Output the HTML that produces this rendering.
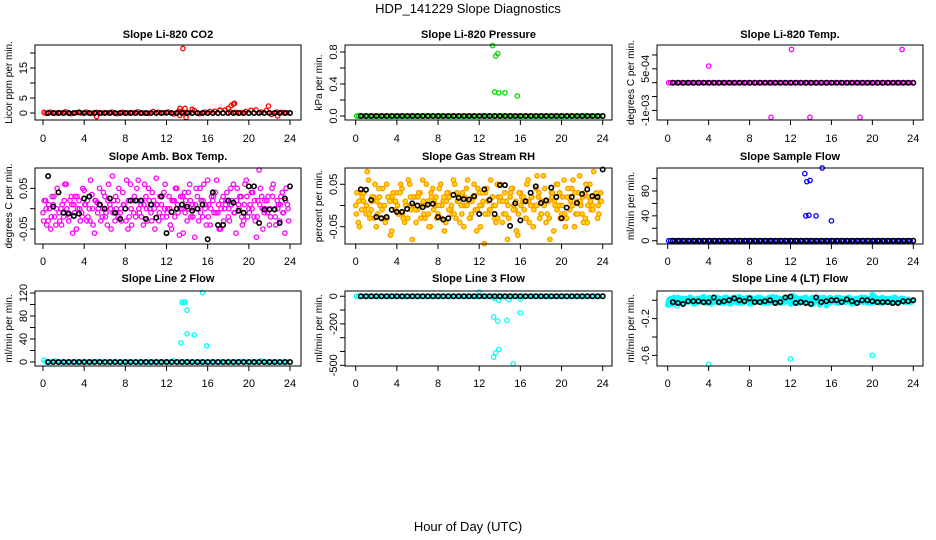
<!DOCTYPE html>
<html><head><meta charset="utf-8">
<style>
html,body{margin:0;padding:0;background:#fff;}
svg{display:block;font-family:"Liberation Sans",sans-serif;}
</style></head>
<body>
<svg id="chart" width="936" height="540" viewBox="0 0 936 540" xmlns="http://www.w3.org/2000/svg">
<rect x="0" y="0" width="936" height="540" fill="#fff"/>
<text x="468" y="13" font-size="13" text-anchor="middle">HDP_141229  Slope Diagnostics</text>
<text x="468" y="531" font-size="13" text-anchor="middle">Hour of Day (UTC)</text>
</svg>
<script>
// ---- data ----
const xTicks = [0,4,8,12,16,20,24];
const blackHours = [0.5,1,1.5,2,2.5,3,3.5,4,4.5,5,5.5,6,6.5,7,7.5,8,8.5,9,9.5,10,10.5,11,11.5,12,12.5,13,13.5,14,14.5,15,15.5,16,16.5,17,17.5,18,18.5,19,19.5,20,20.5,21,21.5,22,22.5,23,23.5,24];
const baseHours = [0.1,0.3,0.7,1.2,1.7,2.2,2.7,3.2,3.7,4.2,4.7,5.2,5.7,6.2,6.7,7.2,7.7,8.2,8.7,9.2,9.7,10.2,10.7,11.2,11.7,12.2,12.7,13.2,13.7,14.2,14.7,15.2,15.7,16.2,16.7,17.2,17.7,18.2,18.7,19.2,19.7,20.2,20.7,21.2,21.7,22.2,22.7,23.2,23.7];
const cloudHoursA = [0,0.25,0.5,0.75,1,1.25,1.5,1.75,2,2.25,2.5,2.75,3,3.25,3.5,3.75,4,4.25,4.5,4.75,5,5.25,5.5,5.75,6,6.25,6.5,6.75,7,7.25,7.5,7.75,8,8.25,8.5,8.75,9,9.25,9.5,9.75,10,10.25,10.5,10.75,11,11.25,11.5,11.75,12,12.25,12.5,12.75,13,13.25,13.5,13.75,14,14.25,14.5,14.75,15,15.25,15.5,15.75,16,16.25,16.5,16.75,17,17.25,17.5,17.75,18,18.25,18.5,18.75,19,19.25,19.5,19.75,20,20.25,20.5,20.75,21,21.25,21.5,21.75,22,22.25,22.5,22.75,23,23.25,23.5,23.75];
const cloudHoursB = [0.12,0.37,0.62,0.87,1.12,1.37,1.62,1.87,2.12,2.37,2.62,2.87,3.12,3.37,3.62,3.87,4.12,4.37,4.62,4.87,5.12,5.37,5.62,5.87,6.12,6.37,6.62,6.87,7.12,7.37,7.62,7.87,8.12,8.37,8.62,8.87,9.12,9.37,9.62,9.87,10.12,10.37,10.62,10.87,11.12,11.37,11.62,11.87,12.12,12.37,12.62,12.87,13.12,13.37,13.62,13.87,14.12,14.37,14.62,14.87,15.12,15.37,15.62,15.87,16.12,16.37,16.62,16.87,17.12,17.37,17.62,17.87,18.12,18.37,18.62,18.87,19.12,19.37,19.62,19.87,20.12,20.37,20.62,20.87,21.12,21.37,21.62,21.87,22.12,22.37,22.62,22.87,23.12,23.37,23.62,23.87];
const cloudHoursC = [0.06,0.31,0.56,0.81,1.06,1.31,1.56,1.81,2.06,2.31,2.56,2.81,3.06,3.31,3.56,3.81,4.06,4.31,4.56,4.81,5.06,5.31,5.56,5.81,6.06,6.31,6.56,6.81,7.06,7.31,7.56,7.81,8.06,8.31,8.56,8.81,9.06,9.31,9.56,9.81,10.06,10.31,10.56,10.81,11.06,11.31,11.56,11.81,12.06,12.31,12.56,12.81,13.06,13.31,13.56,13.81,14.06,14.31,14.56,14.81,15.06,15.31,15.56,15.81,16.06,16.31,16.56,16.81,17.06,17.31,17.56,17.81,18.06,18.31,18.56,18.81,19.06,19.31,19.56,19.81,20.06,20.31,20.56,20.81,21.06,21.31,21.56,21.81,22.06,22.31,22.56,22.81,23.06,23.31,23.56,23.81];

// Panel 1: CO2
const co2Base = [0.2,-0.1,0.3,0,0.1,0.4,-0.2,0.1,0,0.3,-0.1,0.2,0,0.1,0.3,-0.2,0.2,0,0.1,0.4,0,-0.1,0.5,0.2,0.1,0.3,-0.3,0.6,0.2,0.1,0.8,-0.2,0.3,0.5,0.6,0.9,1.0,0.4,0.2,0.1,0.5,0.9,1.0,0.3,0.8,-0.5,0.3,0.2,0.1];
const co2Black = [0,0,0,0,0,0,0.2,0,0,0,0,0,0,0,0,0,0,0,0,0,0,0,0,0.1,0,0,0,0,0,0,0,0,0,0,0,0,0,0,0,0,0,0,0,0,0,0,0,0];
const co2OutHours = [13.6,13.3,13.8,14.5,13.3,13.9,5.2,17.2,18,18.3,18.5,18.6,21.9,22.8];
const co2OutVals = [21.5,1.5,1.5,1.2,-0.8,-1.5,-1.2,1,1.5,2.5,3,3.2,2.3,-1];

// Panel 2: pressure
const presBase = [0,0,0,0,0,0,0,0,0,0,0,0,0,0,0,0,0,0,0,0,0,0,0,0,0,0,0,0,0,0,0,0,0,0,0,0,0,0,0,0,0,0,0,0,0,0,0,0,0];
const presBlack = [0,0,0,0,0,0,0,0,0,0,0,0,0,0,0,0,0,0,0,0,0,0,0,0,0,0,0,0,0,0,0,0,0,0,0,0,0,0,0,0,0,0,0,0,0,0,0,0];
const presOutHours = [13.3,13.6,13.8,15.0,13.5,13.9,14.5,15.7];
const presOutVals = [0.88,0.75,0.78,0.9,0.3,0.29,0.29,0.25];

// Panel 3: Li-820 temp
const tempBase = [0,0,0,0,0,0,0,0,0,0,0,0,0,0,0,0,0,0,0,0,0,0,0,0,0,0,0,0,0,0,0,0,0,0,0,0,0,0,0,0,0,0,0,0,0,0,0,0,0];
const tempBlack = [0,0,0,0,0,0,0,0,0,0,0,0,0,0,0,0,0,0,0,0,0,0,0,0,0,0,0,0,0,0,0,0,0,0,0,0,0,0,0,0,0,0,0,0,0,0,0,0];
const tempOutHours = [4.0,12.1,22.9,10.1,13.9,18.8];
const tempOutVals = [0.0006,0.0012,0.0012,-0.00125,-0.00125,-0.00125];

// Panel 4: Amb box temp
const ambCloudA = [-0.01,0.02,-0.03,-0.05,0.01,-0.04,0.04,0.0,-0.02,0.06,-0.03,0.03,0.01,-0.05,0.02,-0.01,0.045,-0.03,0.0,0.035,-0.06,0.015,0.05,-0.02,0.03,-0.04,0.01,0.08,-0.03,0.02,-0.01,0.04,0.0,-0.05,0.06,0.02,-0.02,0.07,0.01,-0.04,0.03,0.05,-0.01,0.02,0.075,-0.03,0.01,0.04,-0.02,0.03,-0.05,0.02,0.05,-0.065,0.0,0.04,-0.03,0.06,0.01,-0.07,0.03,0.05,-0.02,0.0,0.07,-0.04,0.02,0.04,-0.01,-0.05,0.03,0.01,-0.02,0.05,0.06,-0.06,0.01,0.03,-0.03,0.07,0.0,0.04,-0.02,-0.07,0.095,0.03,-0.01,0.02,-0.04,0.05,0.0,0.02,-0.03,0.04,-0.06,0.01];
const ambCloudB = [0.02,-0.04,0.0,0.03,-0.02,0.05,-0.03,0.01,0.06,-0.01,0.02,-0.06,0.03,0.0,-0.03,0.05,0.01,-0.02,0.07,-0.04,0.02,0.0,-0.03,0.04,-0.01,0.06,-0.05,0.02,0.0,0.05,-0.03,0.01,0.07,-0.02,-0.04,0.03,0.05,-0.01,0.02,0.06,-0.03,0.0,0.04,-0.05,0.01,0.03,-0.02,0.06,0.0,-0.04,0.02,0.05,-0.01,0.03,-0.06,0.02,0.04,-0.02,0.0,0.05,-0.03,0.02,0.06,-0.04,0.01,0.03,-0.01,0.07,-0.05,0.02,0.0,0.04,-0.03,0.02,-0.01,0.05,0.03,-0.04,0.06,-0.02,0.01,0.04,-0.03,0.02,0.05,-0.05,0.0,0.03,-0.02,0.06,-0.04,0.01,0.03,-0.01,0.05,-0.03];
const ambCloudC = [-0.03,0.0,0.01,-0.02,0.03,0.0,-0.01,-0.04,0.02,0.0,-0.02,0.01,-0.01,0.03,0.0,-0.02,0.01,0.02,-0.03,0.0,0.02,-0.01,0.01,0.0,-0.02,0.02,0.0,-0.01,0.03,-0.02,0.0,0.01,-0.03,0.02,0.0,-0.01,0.02,0.0,-0.02,0.01,0.0,0.02,-0.03,0.0,0.01,-0.01,0.03,0.0,-0.01,0.0,0.02,-0.02,0.01,0.0,0.03,-0.01,0.0,0.02,-0.02,0.01,0.0,-0.01,0.02,0.01,-0.02,0.0,0.03,-0.01,0.01,0.0,-0.03,0.02,0.0,0.01,-0.01,0.02,0.0,-0.02,0.01,0.03,-0.01,0.0,0.02,-0.02,0.01,0.0,0.02,-0.01,0.0,0.03,-0.02,0.0,0.01,-0.01,0.02,0.0];
const ambBlack = [0.08,0.005,0.04,-0.01,-0.012,-0.018,-0.012,0.025,0.03,-0.09,0.01,0,0.025,-0.01,-0.025,0,0.02,0.02,0.02,-0.025,0.01,-0.022,0.03,-0.06,-0.008,0,0.01,0.005,-0.005,0,0.01,-0.075,0.04,-0.04,-0.04,0.02,0.015,-0.005,-0.01,0.055,0.055,-0.035,-0.002,-0.002,-0.002,-0.035,0.025,0.055];

// Panel 5: gas stream RH
const rhCloudA = [0.0,-0.04,0.03,0.01,-0.02,0.06,-0.01,0.02,-0.05,0.04,0.0,-0.03,0.05,0.02,-0.06,0.01,0.03,-0.02,0.04,-0.04,0.0,0.05,-0.08,0.02,-0.01,0.03,0.06,-0.03,0.01,-0.05,0.04,0.0,-0.02,0.05,0.01,-0.04,0.03,-0.01,0.06,-0.03,0.02,0.0,-0.05,0.04,0.01,-0.02,0.05,-0.06,0.03,0.0,-0.09,0.04,-0.01,0.02,-0.03,0.05,0.01,-0.04,0.03,-0.08,0.02,0.04,-0.01,-0.07,0.03,0.01,-0.03,0.06,0.0,-0.05,0.04,0.02,-0.02,0.07,-0.04,0.01,0.03,-0.06,0.05,0.0,-0.02,0.06,-0.03,0.02,0.04,-0.05,0.01,0.07,-0.02,0.03,-0.04,0.05,0.0,0.02,-0.03,0.01];
const rhCloudB = [0.03,-0.05,0.02,-0.01,0.08,-0.03,0.01,0.05,-0.02,0.0,0.04,-0.04,0.02,-0.07,0.03,0.01,-0.02,0.05,-0.03,0.0,0.06,-0.01,0.02,-0.04,0.03,0.0,-0.02,0.05,-0.05,0.02,0.01,-0.03,0.04,0.0,-0.06,0.03,0.02,-0.02,0.05,0.01,-0.04,0.03,0.0,0.06,-0.03,0.02,-0.01,0.04,-0.05,0.01,0.03,-0.02,0.06,0.0,-0.04,0.02,0.05,-0.02,0.01,-0.03,0.04,0.0,-0.06,0.03,0.02,-0.01,0.05,-0.04,0.02,0.0,0.07,-0.03,0.01,0.04,-0.02,-0.08,0.03,0.0,0.05,-0.03,0.02,-0.05,0.04,0.01,0.06,-0.02,0.03,0.0,-0.04,0.05,0.02,-0.01,0.08,0.03,-0.02,0.01];
const rhCloudC = [-0.02,0.01,-0.01,0.03,0.0,-0.02,0.02,-0.03,0.01,0.02,-0.01,0.0,-0.03,0.01,0.02,-0.01,0.0,0.03,-0.02,0.01,-0.03,0.02,0.0,-0.01,0.02,-0.03,0.01,0.0,-0.02,0.03,-0.01,0.02,0.0,-0.03,0.02,0.01,-0.01,0.0,-0.02,0.03,0.01,-0.02,0.02,0.0,-0.03,0.01,0.02,-0.01,0.0,0.03,-0.02,0.01,-0.01,0.02,0.0,-0.03,0.02,0.01,-0.02,0.0,0.03,-0.01,0.01,-0.02,0.0,0.02,-0.03,0.01,0.02,-0.01,0.0,0.03,-0.02,0.0,0.01,-0.03,0.02,0.01,-0.01,0.03,0.0,-0.02,0.02,-0.01,0.0,0.03,-0.02,0.01,0.02,-0.03,0.0,0.01,-0.01,0.02,0.0,0.03];
const rhBlack = [0.038,0.037,0.013,-0.027,-0.03,-0.027,-0.01,-0.015,-0.015,-0.008,0.005,0.0,-0.004,0.002,0.004,-0.027,-0.033,-0.03,0.025,0.018,0.015,0.014,0.022,-0.02,0.038,0.013,-0.02,0.048,0.048,-0.048,0.005,-0.035,0.01,0.03,0.045,0.006,0.012,0.042,0.02,-0.03,-0.005,0.02,0.006,0.027,0.038,0.022,0.02,0.085];

// Panel 6: sample flow
const sfBase = [0,0,0,0,0,0,0,0,0,0,0,0,0,0,0,0,0,0,0,0,0,0,0,0,0,0,0,0,0,0,0,0,0,0,0,0,0,0,0,0,0,0,0,0,0,0,0,0,0];
const sfBlack = [0,0,0,0,0,0,0,0,0,0,0,0,0,0,0,0,0,0,0,0,0,0,0,0,0,0,0,0,0,0,0,0,0,0,0,0,0,0,0,0,0,0,0,0,0,0,0,0];
const sfOutHours = [13.4,13.6,13.9,15.1,13.5,13.8,14.5,16.0];
const sfOutVals = [108,95,97,117,40,41,40,32];

// Panel 7: line 2 flow
const l2Base = [3,0,0,2,0,0,0,0,0,0,0,1,0,0,0,0,0,0,0,0,0,0,0,0,0,0,2,0,0,0,0,0,0,0,0,0,0,0,0,1,0,0,0,2,0,0,0,0,0];
const l2Black = [0,0,0,0,0,0,0,0,0,0,0,0,0,0,0,0,0,0,0,0,0,0,0,0,0,0,0,0,0,0,0,0,0,0,0,0,0,0,0,0,0,0,0,0,0,0,0,0];
const l2OutHours = [13.5,13.7,13.8,14.0,15.5,13.4,14.0,14.7,15.9];
const l2OutVals = [104,104,104,90,121,33,49,47,28];

// Panel 8: line 3 flow
const l3Base = [0,0,0,0,0,0,0,0,0,0,0,0,0,0,0,0,0,0,0,0,0,0,0,0,0,0,0,0,0,0,0,0,0,0,0,0,0,0,0,0,0,0,0,0,0,0,0,0,0];
const l3Black = [0,0,0,0,0,0,0,0,0,0,0,0,0,0,0,0,0,0,0,0,0,0,0,0,0,0,0,0,0,0,0,0,0,0,0,0,0,0,0,0,0,0,0,0,0,0,0,0];
const l3OutHours = [13.4,13.8,14.7,16.0,13.4,13.6,13.9,15.3,13.5,13.9,14.9,16.0,12.0];
const l3OutVals = [-150,-180,-175,-120,-440,-410,-385,-490,-15,-30,-25,-20,30];

// Panel 9: line 4 flow
const l4CloudA = [-0.05,-0.01,0.02,-0.03,0.03,0.0,-0.04,0.02,-0.02,0.03,0.01,-0.03,0.02,-0.01,0.04,-0.02,0.01,-0.04,0.03,0.0,-0.02,0.02,-0.03,0.03,0.0,-0.01,0.02,-0.03,0.04,0.01,-0.02,0.03,-0.04,0.0,0.02,-0.01,0.03,-0.03,0.01,0.02,-0.02,0.04,0.0,-0.03,0.02,0.01,-0.02,0.03,-0.04,0.05,0.0,-0.03,0.02,-0.01,0.03,-0.02,0.01,-0.04,0.02,0.0,-0.03,0.03,-0.06,0.01,0.02,-0.02,0.03,-0.03,0.0,0.02,-0.01,0.03,-0.04,0.01,0.02,-0.02,0.03,0.0,-0.03,0.02,0.06,-0.02,0.01,-0.03,0.03,0.0,-0.02,0.02,-0.01,0.03,-0.03,0.01,0.02,-0.02,0.0,-0.01];
const l4CloudB = [0.01,-0.04,0.03,0.0,-0.02,0.02,-0.03,0.01,0.03,-0.01,-0.03,0.02,0.0,0.03,-0.03,0.02,-0.01,0.01,-0.02,0.03,0.01,-0.03,0.02,0.0,-0.04,0.03,0.0,-0.02,0.01,-0.03,0.02,0.0,0.03,-0.03,0.01,-0.02,0.02,0.0,-0.03,0.03,0.0,-0.02,0.03,0.01,-0.03,0.02,0.0,-0.02,0.03,-0.01,0.02,-0.03,0.0,0.03,-0.02,0.01,0.03,-0.02,0.0,-0.05,0.02,0.0,-0.02,0.03,-0.01,0.01,-0.03,0.02,0.0,-0.02,0.03,0.0,-0.03,0.02,-0.01,0.03,-0.02,0.01,0.0,-0.03,0.02,0.03,-0.02,0.01,-0.02,0.02,0.0,-0.03,0.03,0.0,-0.02,0.02,-0.01,0.01,-0.02,0.0];
const l4CloudC = [-0.02,0.02,-0.04,0.01,0.0,-0.03,0.02,-0.01,0.0,0.02,-0.04,0.01,-0.02,0.02,0.0,-0.03,0.03,0.0,-0.01,0.02,-0.03,0.0,0.03,-0.02,0.01,-0.02,0.03,0.0,-0.03,0.02,-0.01,0.0,0.02,-0.02,0.0,0.03,-0.02,0.01,0.0,-0.03,0.02,0.0,-0.01,0.02,-0.03,0.0,0.03,-0.01,0.0,-0.02,0.03,0.01,-0.02,0.0,0.02,-0.03,0.0,0.02,-0.01,0.03,-0.02,0.0,0.01,-0.03,0.02,0.0,-0.02,0.03,-0.01,0.0,0.02,-0.02,0.01,-0.03,0.02,0.0,-0.01,0.03,-0.02,0.0,0.02,-0.01,0.0,0.02,-0.03,0.01,0.0,-0.02,0.03,0.0,-0.01,0.02,-0.02,0.0,0.01,-0.02];
const l4Black = [-0.02,-0.03,-0.04,-0.01,-0.01,-0.01,-0.02,-0.02,0.03,-0.02,-0.01,0.0,0.02,0.0,-0.01,0.02,-0.02,-0.02,-0.01,0.0,-0.03,-0.02,0.03,0.04,-0.03,-0.02,-0.03,-0.04,0.03,-0.02,-0.01,0.0,0.0,-0.02,0.01,-0.01,-0.03,0.0,0.0,-0.01,-0.02,-0.02,-0.02,-0.03,-0.03,-0.01,-0.01,0.0];
const l4OutHours = [4.0,12.0,20.0,0.1,0.9];
const l4OutVals = [-0.7,-0.64,-0.6,-0.05,-0.06];

// ---- drawing ----
const NS = "http://www.w3.org/2000/svg";
const svg = document.getElementById('chart');
function mk(tag, attrs){const e=document.createElementNS(NS,tag);for(const k in attrs)e.setAttribute(k,attrs[k]);return e;}

const cols = [{bx0:35,bx1:301,x0:43,x24:290},{bx0:345,bx1:612,x0:355.7,x24:602.7},{bx0:657,bx1:923,x0:667.7,x24:913.3}];
const rows = [{by0:45,by1:120,title:38,lab:142},{by0:168,by1:244,title:160,lab:265},{by0:291,by1:366,title:282,lab:387}];

function panel(key, r, c, title, ytitle, ymin, ymax, yticks, ylabels, series){
  const R=rows[r], C=cols[c];
  const g=mk('g',{});
  
  
  svg.appendChild(g);
  const xs=h=>C.x0+h*(C.x24-C.x0)/24;
  const ys=v=>R.by1-(v-ymin)/(ymax-ymin)*(R.by1-R.by0);
  const t=mk('text',{x:(C.bx0+C.bx1)/2,y:R.title,'font-size':11,'font-weight':'bold','text-anchor':'middle'});
  t.textContent=title;
  
  
  g.appendChild(t);
  const yt=mk('text',{x:0,y:0,'font-size':10,'text-anchor':'middle',transform:`translate(${C.bx0-23},${(R.by0+R.by1)/2}) rotate(-90)`});
  yt.textContent=ytitle;
  
  
  g.appendChild(yt);
  series.forEach(s=>{
    const n=Math.min(s.h.length,s.v.length);
    for(let i=0;i<n;i++){
      const v=s.v[i]; if(v<ymin-1e-12||v>ymax+1e-12) continue;
      const p=mk('circle',{cx:xs(s.h[i]),cy:ys(v),r:2.2,fill:s.fill||'none',stroke:s.col,'stroke-width':s.sw||1.3});
      
      
      g.appendChild(p);
    }
  });
  const box=mk('rect',{x:C.bx0,y:R.by0,width:C.bx1-C.bx0,height:R.by1-R.by0,fill:'none',stroke:'#000','stroke-width':1});
  
  
  g.appendChild(box);
  xTicks.forEach(h=>{
    const l=mk('line',{x1:xs(h),x2:xs(h),y1:R.by1,y2:R.by1+5,stroke:'#000'});
    
    
    g.appendChild(l);
    const tx=mk('text',{x:xs(h),y:R.lab,'font-size':11,'text-anchor':'middle'});
    tx.textContent=String(h);
    
    
    g.appendChild(tx);
  });
  yticks.forEach((v,i)=>{
    const y=ys(v);
    const l=mk('line',{x1:C.bx0-5,x2:C.bx0,y1:y,y2:y,stroke:'#000'});
    
    
    g.appendChild(l);
    if(ylabels[i]){
      const tx=mk('text',{x:0,y:0,'font-size':11,'text-anchor':'middle',transform:`translate(${C.bx0-8},${y}) rotate(-90)`});
      tx.textContent=ylabels[i];
      
      
      g.appendChild(tx);
    }
  });
}
const MAG='#ff00ff', CY='#00ffff';
panel('co2',0,0,'Slope Li-820 CO2','Licor ppm per min.',-2.33,22.67,[0,5,10,15,20],['0','5','','15',''],[
 {name:'raw',h:baseHours,v:co2Base,col:'#ff0000'},
 {name:'outlier',h:co2OutHours,v:co2OutVals,col:'#ff0000'},
 {name:'mean',h:blackHours,v:co2Black,col:'#000',sw:1.6}]);
panel('pressure',0,1,'Slope Li-820 Pressure','kPa per min.',-0.05,0.8875,[0,0.2,0.4,0.6,0.8],['0.0','','0.4','','0.8'],[
 {name:'raw',h:baseHours,v:presBase,col:'#00dd00'},
 {name:'outlier',h:presOutHours,v:presOutVals,col:'#00dd00'},
 {name:'mean',h:blackHours,v:presBlack,col:'#000',sw:1.6}]);
panel('li820-temp',0,2,'Slope Li-820 Temp.','degrees C per min.',-0.001346,0.00136,[-0.001,-0.0005,0,0.0005,0.001],['-1e-03','','','5e-04',''],[
 {name:'raw',h:baseHours,v:tempBase,col:MAG},
 {name:'outlier',h:tempOutHours,v:tempOutVals,col:MAG},
 {name:'mean',h:blackHours,v:tempBlack,col:'#000',sw:1.6}]);
panel('amb-box-temp',1,0,'Slope Amb. Box Temp.','degrees C per min.',-0.0867,0.1,[-0.05,0,0.05],['-0.05','','0.05'],[
 {name:'raw-a',h:cloudHoursA,v:ambCloudA,col:MAG},
 {name:'raw-b',h:cloudHoursB,v:ambCloudB,col:MAG},
 {name:'raw-c',h:cloudHoursC,v:ambCloudC,col:MAG},
 {name:'mean',h:blackHours,v:ambBlack,col:'#000',sw:1.6}]);
panel('gas-stream-rh',1,1,'Slope Gas Stream RH','percent per min.',-0.0908,0.0884,[-0.05,0,0.05],['-0.05','','0.05'],[
 {name:'raw-a',h:cloudHoursA,v:rhCloudA,col:'#ff9900',fill:'#ffe000'},
 {name:'raw-b',h:cloudHoursB,v:rhCloudB,col:'#ff9900',fill:'#ffe000'},
 {name:'raw-c',h:cloudHoursC,v:rhCloudC,col:'#ff9900',fill:'#ffe000'},
 {name:'mean',h:blackHours,v:rhBlack,col:'#000',sw:1.6}]);
panel('sample-flow',1,2,'Slope Sample Flow','ml/min per min.',-5.3,117,[0,20,40,60,80,100],['0','','40','','80',''],[
 {name:'raw',h:baseHours,v:sfBase,col:'#0000ff'},
 {name:'outlier',h:sfOutHours,v:sfOutVals,col:'#0000ff'},
 {name:'mean',h:blackHours,v:sfBlack,col:'#000',sw:1.6}]);
panel('line2-flow',2,0,'Slope Line 2 Flow','ml/min per min.',-7,123.5,[0,20,40,60,80,100,120],['0','','40','','80','','120'],[
 {name:'raw',h:baseHours,v:l2Base,col:CY},
 {name:'outlier',h:l2OutHours,v:l2OutVals,col:CY},
 {name:'mean',h:blackHours,v:l2Black,col:'#000',sw:1.6}]);
panel('line3-flow',2,1,'Slope Line 3 Flow','ml/min per min.',-505,38,[-500,-400,-300,-200,-100,0],['-500','','','-200','','0'],[
 {name:'raw',h:baseHours,v:l3Base,col:CY},
 {name:'outlier',h:l3OutHours,v:l3OutVals,col:CY},
 {name:'mean',h:blackHours,v:l3Black,col:'#000',sw:1.6}]);
panel('line4-flow',2,2,'Slope Line 4 (LT) Flow','ml/min per min.',-0.716,0.101,[-0.6,-0.4,-0.2,0],['-0.6','','-0.2',''],[
 {name:'raw-a',h:cloudHoursA,v:l4CloudA,col:CY,fill:CY},
 {name:'raw-b',h:cloudHoursB,v:l4CloudB,col:CY,fill:CY},
 {name:'raw-c',h:cloudHoursC,v:l4CloudC,col:CY,fill:CY},
 {name:'outlier',h:l4OutHours,v:l4OutVals,col:CY},
 {name:'mean',h:blackHours,v:l4Black,col:'#000',sw:1.6}]);
</script>
</body></html>
